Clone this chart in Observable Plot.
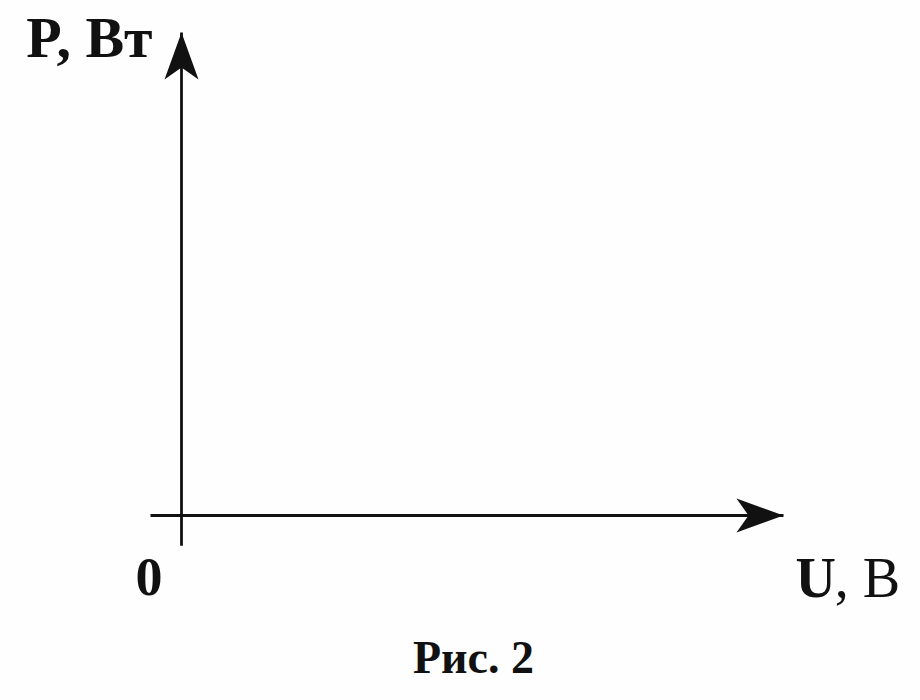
<!DOCTYPE html>
<html><head><meta charset="utf-8">
<script src="https://cdn.jsdelivr.net/npm/d3@7"></script>
<script src="https://cdn.jsdelivr.net/npm/@observablehq/plot@0.6"></script>
<style>body{margin:0;background:#fefefe} svg{display:block}</style>
</head><body><div id="chart"></div>
<script>
// Axis extents (abstract units): U horizontal, P vertical
const uAxis = [-1.03, 20];
const pAxis = [-1, 16];
// Label texts
const labelTexts = ["P, Вт", "0", "U", ", В", "Рис. 2"];
const labelU = [-0.96, -1.08, 20.40, 21.70, 9.70];
const labelP = [15.80, -2.07, -2.12, -2.12, -4.72];
const labelAnchor = ["end", "middle", "start", "start", "middle"];
const labelSize = [58, 54, 56, 56, 46];
const labelBold = [true, true, true, false, true];

const labels = labelTexts.map((t, i) => ({text: t, u: labelU[i], p: labelP[i], anchor: labelAnchor[i], size: labelSize[i], bold: labelBold[i]}));

const axes = [
  {x1: uAxis[0], y1: 0, x2: uAxis[1], y2: 0, rot: 90},
  {x1: 0, y1: pAxis[0], x2: 0, y2: pAxis[1], rot: 0}
];

// filled barbed arrowhead, pointing up, tip at origin
const arrowHead = {
  draw(ctx) {
    ctx.moveTo(0, 0);
    ctx.lineTo(17, 47);
    ctx.lineTo(0, 35);
    ctx.lineTo(-17, 47);
    ctx.closePath();
  }
};

const ink = "#111";
const font = "Liberation Serif, Times New Roman, serif";
const textMarks = [];
for (const anchor of ["start", "middle", "end"]) {
  for (const bold of [true, false]) {
    const d = labels.filter(l => l.anchor === anchor && l.bold === bold);
    if (!d.length) continue;
    textMarks.push(Plot.text(d, {x: "u", y: "p", text: "text", textAnchor: anchor,
      fontSize: "size", fontWeight: bold ? "bold" : "normal", fontFamily: font, fill: ink}));
  }
}

const chart = Plot.plot({
  width: 920,
  height: 700,
  style: {background: "#fefefe", fontFamily: font},
  x: {domain: [0, 20], range: [181, 783], axis: null},
  y: {domain: [0, 16], range: [515, 32], axis: null},
  marks: [
    Plot.link(axes, {x1: "x1", y1: "y1", x2: "x2", y2: "y2", stroke: ink, strokeWidth: 2.8}),
    Plot.dot(axes.filter(a => a.rot === 90), {x: "x2", y: "y2", symbol: arrowHead, fill: ink, stroke: "none", rotate: 90, r: 10}),
    Plot.dot(axes.filter(a => a.rot === 0), {x: "x2", y: "y2", symbol: arrowHead, fill: ink, stroke: "none", rotate: 0, r: 10}),
    ...textMarks
  ]
});
document.getElementById("chart").appendChild(chart);
</script>
</body></html>
